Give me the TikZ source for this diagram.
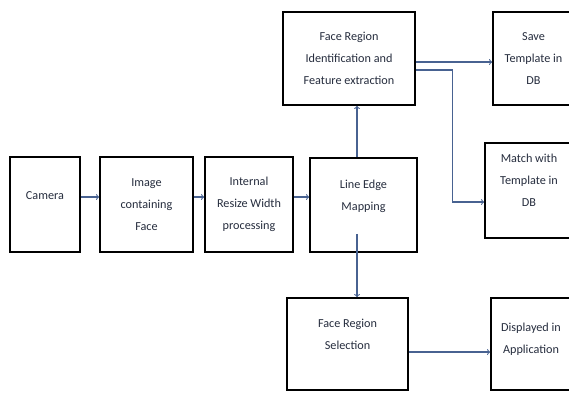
\documentclass[tikz,border=0pt]{standalone}
\usepackage{fontspec}
\setmainfont{Carlito}
\usetikzlibrary{shadows}

\definecolor{txtnavy}{RGB}{38,45,62}
\definecolor{linkblue}{RGB}{72,98,145}

\begin{document}
\begin{tikzpicture}[x=1pt,y=-1pt,
    block/.style={draw,line width=1.6pt,fill=white,align=center,inner sep=0pt,
        drop shadow={shadow xshift=1.3pt,shadow yshift=-1.3pt,fill=black,opacity=1},
        text=txtnavy,font=\fontsize{12.2}{22}\selectfont},
    lift/.style={text depth=#1},
    link/.style={->,linkblue,line width=1.1pt}]
    \useasboundingbox (0,0) rectangle (569,394);
    \clip (0,0) rectangle (569,394);

    % main row
    \node [block,lift=18pt,minimum width=70pt,minimum height=95pt] (cam) at (45,204.5) {Camera};
    \node [block,minimum width=93pt,minimum height=95pt] (img) at (146.5,204.5) {Image\\containing\\Face};
    \node [block,minimum width=88pt,minimum height=95pt] (resize) at (249,204.5) {Internal\\Resize Width\\processing};
    \node [block,lift=20pt,minimum width=107pt,minimum height=94pt] (edge) at (363.5,205) {Line Edge\\Mapping};

    % upper branch
    \node [block,minimum width=132pt,minimum height=93pt] (feat) at (349,58.5) {Face Region\\Identification and\\Feature extraction};
    \node [block,minimum width=81pt,minimum height=93pt] (save) at (533.5,58.5) {Save\\Template in\\DB};
    \node [block,lift=20pt,minimum width=88pt,minimum height=95pt] (match) at (529,190.5) {Match with\\Template in\\DB};

    % lower branch
    \node [block,lift=20pt,minimum width=121pt,minimum height=92pt] (select) at (347.5,344) {Face Region\\Selection};
    \node [block,lift=12pt,minimum width=80pt,minimum height=92pt] (show) at (531,344) {Displayed in\\Application};

    \draw [link] ([yshift=7.5pt]cam.east) -- ([yshift=7.5pt]img.west);
    \draw [link] ([yshift=7.5pt]img.east) -- ([yshift=7.5pt]resize.west);
    \draw [link] ([yshift=7.5pt]resize.east) -- ([yshift=8pt]edge.west);

    \draw [link] ([xshift=-6.5pt]edge.north) -- ([xshift=8pt]feat.south);
    \draw [link] ([xshift=-6.5pt,yshift=19pt]edge.south) -- ([xshift=9.5pt]select.north);

    \draw [link] ([yshift=-3.5pt]feat.east) -- ([yshift=-3.5pt]save.west);
    \draw [link] ([yshift=-11.5pt]feat.east) -- ++(37,0) |- ([yshift=-11.5pt]match.west);

    \draw [link] ([yshift=-8pt]select.east) -- ([yshift=-8pt]show.west);
\end{tikzpicture}
\end{document}
